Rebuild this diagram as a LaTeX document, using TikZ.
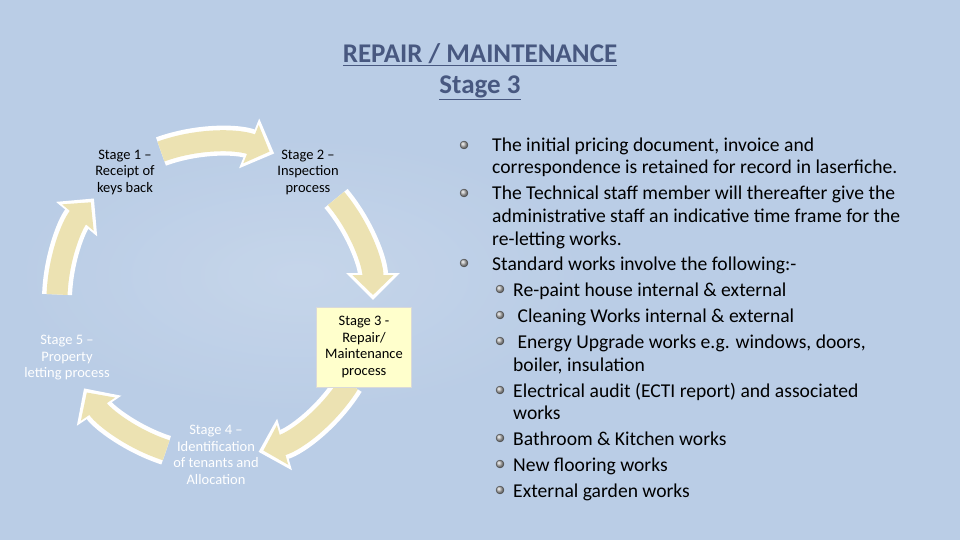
\documentclass[tikz,border=0pt]{standalone}
\usepackage{fontspec}
\setmainfont{Carlito}
\usetikzlibrary{arrows.meta}
\definecolor{bg}{RGB}{186,205,230}
\definecolor{arrowy}{RGB}{236,226,178}
\definecolor{titlec}{RGB}{72,88,128}
\definecolor{boxy}{RGB}{255,255,204}
\tikzset{
  stg/.style={align=center,font=\fontsize{14.5}{16.5}\selectfont,text=black,inner sep=1pt},
  stgw/.style={stg,text=white},
  ln/.style={anchor=base west,font=\fontsize{19.6}{24}\selectfont,inner sep=0pt},
  bul/.style={circle,minimum size=8pt,inner sep=0pt,ball color=gray!60,draw=gray!50!black,line width=0.3pt},
  outerarr/.style={line width=30pt,white,-{Triangle[width=52pt,length=27pt]}},
  innerarr/.style={line width=21pt,arrowy,shorten >=5pt,-{Triangle[width=40pt,length=20pt]}}
}
\newcommand{\cyc}[2]{%
  \draw[outerarr] (ctr) ++(-#1:158) arc[start angle=-#1,end angle=-#2,radius=158];
  \draw[innerarr] (ctr) ++(-#1:158) arc[start angle=-#1,end angle=-#2,radius=158];}
\begin{document}
\begin{tikzpicture}[x=1pt,y=-1pt]
\useasboundingbox (0,0) rectangle (960,540);
\fill[bg] (0,0) rectangle (960,540);
\shade[inner color=white!25!bg,outer color=bg,opacity=0.7] (0,130) rectangle (600,420);
\coordinate (ctr) at (215,300);
\node[text=titlec,font=\fontsize{27}{30}\selectfont\bfseries] (t1) at (480,55) {\underline{REPAIR / MAINTENANCE}};
\node[text=titlec,font=\fontsize{27}{30}\selectfont\bfseries] (t2) at (480,88) {\underline{Stage 3}};
\cyc{110}{68}
\cyc{40}{0}
\cyc{-32}{-74}
\cyc{-108}{-146}
\cyc{178}{140}
\node[stg] (s1) at (125,172) {Stage 1 –\\Receipt of\\keys back};
\node[stg] (s2) at (308,172) {Stage 2 –\\Inspection\\process};
\node[stg,fill=boxy,draw=white!85!black,minimum width=95pt,minimum height=80pt] (s3) at (364,347) {Stage 3 -\\Repair/\\Maintenance\\process};
\node[stgw] (s4) at (216,455) {Stage 4 –\\Identification\\of tenants and\\Allocation};
\node[stgw] (s5) at (67,358) {Stage 5 –\\Property\\letting process};
% bullets
\foreach \y/\t [count=\i] in {
 152/{The initial pricing document, invoice and},
 174/{correspondence is retained for record in laserfiche.},
 200/{The Technical staff member will thereafter give the},
 222/{administrative staff an indicative time frame for the},
 245/{re-letting works.},
 270/{Standard works involve the following:-}}{
 \node[ln] (l\i) at (492,\y) {\t};}
\foreach \y/\t [count=\i] in {
 296/{Re-paint house internal \& external},
 322/{\ Cleaning Works internal \& external},
 348/{\ Energy Upgrade works e.g. windows, doors,},
 371/{boiler, insulation},
 397/{Electrical audit (ECTI report) and associated},
 419/{works},
 445/{Bathroom \& Kitchen works},
 471/{New flooring works},
 497/{External garden works}}{
 \node[ln] (m\i) at (513,\y) {\t};}
\foreach \n in {l1,l3,l6}{\node[bul] (b\n) at ([xshift=-28pt,yshift=7pt]\n.base west) {};}
\foreach \n in {m1,m2,m3,m5,m7,m8,m9}{\node[bul] (b\n) at ([xshift=-13pt,yshift=7pt]m1.base west |- \n.base) {};}
\end{tikzpicture}
\end{document}
